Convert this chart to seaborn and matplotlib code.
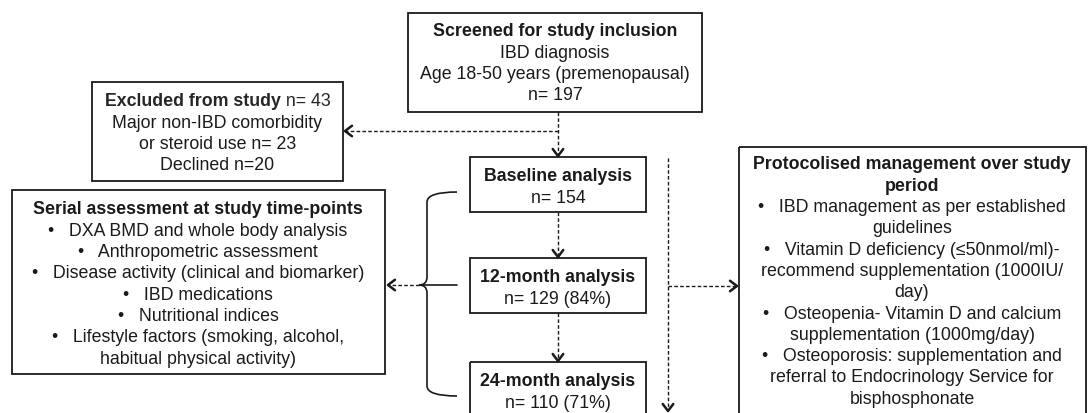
import matplotlib
matplotlib.use("Agg")
import matplotlib.pyplot as plt
from matplotlib.patches import Rectangle, PathPatch
from matplotlib.path import Path
import seaborn as sns

# ---------------- content ----------------
screened_title = "Screened for study inclusion"
screened_lines = ["IBD diagnosis", "Age 18-50 years (premenopausal)", "n= 197"]

excluded_title = "Excluded from study"
excluded_title_rest = " n= 43"
excluded_lines = ["Major non-IBD comorbidity", "or steroid use n= 23", "Declined n=20"]

stage_titles = ["Baseline analysis", "12-month analysis", "24-month analysis"]
stage_counts = ["n= 154", "n= 129 (84%)", "n= 110 (71%)"]

serial_title = "Serial assessment at study time-points"
serial_lines = [
    "•   DXA BMD and whole body analysis",
    "•   Anthropometric assessment",
    "•   Disease activity (clinical and biomarker)",
    "•   IBD medications",
    "•   Nutritional indices",
    "•   Lifestyle factors (smoking, alcohol,",
    "habitual physical activity)",
]

protocol_title = ["Protocolised management over study", "period"]
protocol_lines = [
    "•   IBD management as per established",
    "guidelines",
    "•   Vitamin D deficiency (≤50nmol/ml)-",
    "recommend supplementation (1000IU/",
    "day)",
    "•   Osteopenia- Vitamin D and calcium",
    "supplementation (1000mg/day)",
    "•   Osteoporosis: supplementation and",
    "referral to Endocrinology Service for",
    "bisphosphonate",
]

# ---------------- style ----------------
sns.set_theme(style="white")
plt.rcParams["font.family"] = ["Liberation Sans", "DejaVu Sans"]
FS = 12.8
LH = 21.3
BOX_LW = 1.3

W, H = 1089, 414
fig = plt.figure(figsize=(W / 100, H / 100), dpi=100)
ax = fig.add_axes([0, 0, 1, 1])
ax.set_xlim(0, W)
ax.set_ylim(H, 0)
ax.axis("off")


def box(x0, y0, x1, y1):
    ax.add_patch(Rectangle((x0, y0), x1 - x0, y1 - y0, fill=False,
                           edgecolor="#1a1a1a", lw=BOX_LW, zorder=3))


def lines(cx, y0, items, bold_n=0):
    for i, t in enumerate(items):
        ax.text(cx, y0 + i * LH, t, ha="center", va="center", fontsize=FS,
                fontweight="bold" if i < bold_n else "normal", color="#1a1a1a")


DASH = (0, (2.6, 1.6))


def dashed(xs, ys):
    ax.plot(xs, ys, color="#1a1a1a", lw=1.0, linestyle=DASH, zorder=2)


def head(x, y, direction, s=7):
    c = "#1a1a1a"
    kw = dict(color=c, lw=1.8, solid_capstyle="round", zorder=4)
    if direction == "down":
        ax.plot([x - s * 0.75, x, x + s * 0.75], [y - s, y, y - s], **kw)
    elif direction == "left":
        ax.plot([x + s, x, x + s], [y - s * 0.75, y, y + s * 0.75], **kw)
    elif direction == "right":
        ax.plot([x - s, x, x - s], [y - s * 0.75, y, y + s * 0.75], **kw)


# Screened box
box(408, 14, 702, 113)
lines(555, 32, [screened_title] + screened_lines, bold_n=1)

# Excluded box
box(92, 83, 343, 182)
fig.canvas.draw()
r = fig.canvas.get_renderer()
tb = ax.text(0, 102, excluded_title, fontsize=FS, fontweight="bold", va="center", ha="left")
tr = ax.text(0, 102, excluded_title_rest, fontsize=FS, va="center", ha="left")
wb = tb.get_window_extent(r).width
wr = tr.get_window_extent(r).width
start = (92 + 343) / 2 - (wb + wr) / 2
tb.set_x(start)
tr.set_x(start + wb)
lines((92 + 343) / 2, 102 + LH, excluded_lines)

# arrows from screened
dashed([558, 558], [113, 156])
head(558, 157, "down")
dashed([558, 346], [132, 132])
head(345, 132, "left")

# stage boxes
stage_tops = [158, 259, 363]
for top, t, n in zip(stage_tops, stage_titles, stage_counts):
    box(470, top, 646, top + 55 if top < 360 else 430)
    lines(558, top + 19, [t, n], bold_n=1)
dashed([558, 558], [213, 257])
head(558, 258, "down")
dashed([558, 558], [314, 361])
head(558, 362, "down")

# Serial box
box(12, 191, 385, 375)
lines(198, 210, [serial_title] + serial_lines, bold_n=1)

# brace
verts = [(457, 193), (427, 193), (427, 203),
         (427, 278), (427, 286), (419, 286),
         (427, 286), (427, 294),
         (427, 387), (427, 397), (457, 397)]
codes = [Path.MOVETO, Path.CURVE3, Path.CURVE3,
         Path.LINETO, Path.CURVE3, Path.CURVE3,
         Path.CURVE3, Path.CURVE3,
         Path.LINETO, Path.CURVE3, Path.CURVE3]
ax.add_patch(PathPatch(Path(verts, codes), fill=False, edgecolor="#1a1a1a", lw=1.2, zorder=3))
ax.plot([423, 457], [286, 286], color="#1a1a1a", lw=1.2, zorder=3)
dashed([419, 389], [286, 286])
head(388, 286, "left")

# right vertical dashed line + arrow to protocol box
dashed([668, 668], [159, 410])
head(668, 412, "down")
dashed([668, 736], [287, 287])
head(737, 287, "right")

# Protocol box
box(739, 148, 1086, 430)
lines(912, 165, protocol_title, bold_n=2)
lines(912, 165 + 2 * LH, protocol_lines)

fig.savefig("out.png", dpi=100, facecolor="white")
